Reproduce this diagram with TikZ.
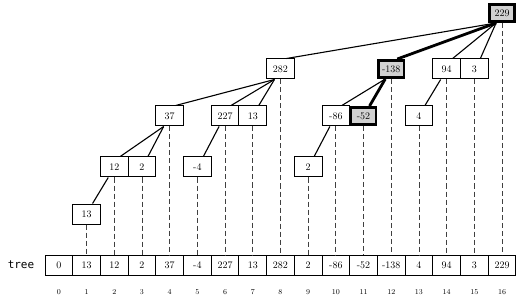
\documentclass[tikz,border=0pt]{standalone}
\usepackage{fontspec}
\newfontfamily\treemono{DejaVu Sans Mono}
\begin{document}
\begin{tikzpicture}[x=1pt,y=-1pt,
  cell/.style={draw,line width=1pt,minimum width=27.7pt,minimum height=20pt,inner sep=0pt,font=\fontsize{10}{11}\selectfont},
  tnode/.style={cell,fill=white},
  hinode/.style={cell,fill=black!18,line width=2.6pt,minimum width=25.1pt,minimum height=17.4pt},
  edge/.style={line width=1.1pt},
  hiedge/.style={line width=2.8pt},
  guide/.style={dashed,dash pattern=on 5pt off 3pt,line width=0.9pt,draw=black!75},
  idx/.style={font=\fontsize{7.5}{8}\selectfont}]
\useasboundingbox (0,0) rectangle (518,304);
% array
\foreach \v [count=\n from 0] in {0,13,12,2,37,-4,227,13,282,2,-86,-52,-138,4,94,3,229}{
  \node[cell] (a\n) at ({58.85+27.7*\n},265.5) {\v};
  \node[idx] (l\n) at ({58.85+27.7*\n},292) {\n};
}
\node[font=\treemono\fontsize{11}{12}\selectfont] (lbl) at (21,265) {tree};
% tree nodes
\node[hinode] (t16) at ({58.85+27.7*16},13) {229};
\node[tnode] (t8) at ({58.85+27.7*8},69) {282};
\node[hinode] (t12) at ({58.85+27.7*12},69) {-138};
\node[tnode] (t14) at ({58.85+27.7*14},69) {94};
\node[tnode] (t15) at ({58.85+27.7*15},69) {3};
\node[tnode] (t4) at ({58.85+27.7*4},116) {37};
\node[tnode] (t6) at ({58.85+27.7*6},116) {227};
\node[tnode] (t7) at ({58.85+27.7*7},116) {13};
\node[tnode] (t10) at ({58.85+27.7*10},116) {-86};
\node[hinode] (t11) at ({58.85+27.7*11},116) {-52};
\node[tnode] (t13) at ({58.85+27.7*13},116) {4};
\node[tnode] (t2) at ({58.85+27.7*2},167) {12};
\node[tnode] (t3) at ({58.85+27.7*3},167) {2};
\node[tnode] (t5) at ({58.85+27.7*5},167) {-4};
\node[tnode] (t9) at ({58.85+27.7*9},167) {2};
\node[tnode] (t1) at ({58.85+27.7*1},214) {13};
% dashed guides
\foreach \n in {1,...,16}{
  \draw[guide] (t\n.south) -- (a\n.north);
}
% edges
\foreach \p/\c in {16/8,16/14,16/15,8/4,8/6,8/7,12/10,14/13,4/2,4/3,6/5,10/9,2/1}{
  \draw[edge] ([xshift=-6pt]t\p.south) -- ([xshift=6pt]t\c.north);
}
\draw[hiedge] ([xshift=-6pt]t16.south) -- ([xshift=6pt]t12.north);
\draw[hiedge] ([xshift=-6pt]t12.south) -- ([xshift=6pt]t11.north);
\end{tikzpicture}
\end{document}
